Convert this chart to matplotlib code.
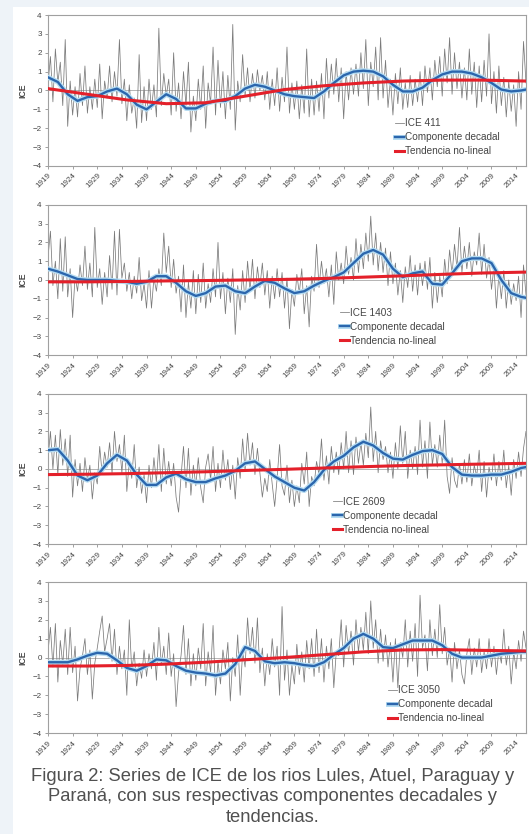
import numpy as np
import matplotlib
matplotlib.use("Agg")
import matplotlib.pyplot as plt
import matplotlib.patheffects as pe
from matplotlib.patches import Rectangle

plt.rcParams['font.family'] = ['Liberation Sans', 'DejaVu Sans']

# eje temporal: serie semestral 1919-2016, componente cada 2 años, tendencia cada 8
anio_ini = 1919
anio_fin = 2016
anios_ticks = list(range(1919, 2015, 5))
anios_decadal = list(range(1919, 2016, 2)) + [2016]
anios_tend = [1919, 1927, 1935, 1943, 1951, 1959, 1967, 1975, 1983, 1991, 1999, 2007, 2016]

etiquetas = ["ICE 411", "ICE 1403", "ICE 2609", "ICE 3050"]

# --- ICE 411 (Lules)
ice_411 = [
    0.3, 1.8, -0.6, 2.2, 0.4, 1.5, -0.8, 2.7, -1.9, 0.5,
    -1.3, 0.2, -1.4, 0.9, -0.8, 1.3, -1.2, 0.2, -1.0, 0.6,
    -0.9, 1.4, -1.5, 0.5, -0.4, 1.3, -0.6, 1.0, -0.3, 2.7,
    -0.7, 0.6, -1.6, 0.3, -1.2, -0.4, -2.0, 1.9, -1.7, 0.2,
    -1.6, 0.6, -1.0, 0.3, -1.4, 3.3, -0.8, 0.9, -0.3, 0.6,
    -1.3, 2.0, -1.1, 0.4, -1.5, 1.0, -0.8, 1.5, -2.2, -0.3,
    -1.6, 0.6, -1.0, 1.3, -2.0, 0.4, -0.7, 2.3, -1.3, 1.6,
    -0.9, 1.0, -1.5, 0.8, -1.0, 3.5, -2.1, 0.5, -0.6, 1.9,
    -0.3, 1.2, -0.6, 0.9, -0.4, 1.1, 0.0, 0.8, -0.5, 1.0,
    -1.0, 0.6, -0.8, 1.2, -1.1, 0.7, -0.6, 2.3, -1.2, 0.4,
    -1.0, 0.5, -1.5, 0.3, -1.2, 2.2, -1.4, 0.6, -1.3, 0.5,
    -1.1, 0.9, -1.5, 1.7, -0.4, 1.4, -0.2, 1.7, -0.6, 1.2,
    -1.5, 1.0, -0.5, 1.2, -0.2, 1.4, -0.3, 2.0, 0.1, 2.7,
    -0.8, 1.5, 0.2, 2.3, -0.5, 2.8, -0.4, 1.6, -0.9, 0.6,
    -1.3, 0.9, -0.7, 1.2, -1.0, 0.4, -0.9, 0.8, -0.8, 0.6,
    -0.6, 1.0, -0.8, 1.3, -0.1, 1.2, -0.5, 1.6, 0.2, 1.8,
    -0.3, 2.2, 0.4, 2.8, -0.2, 2.0, 0.1, 1.5, -0.4, 1.2,
    -0.5, 2.2, -0.2, 1.5, -0.9, 1.3, -0.6, 1.6, -0.3, 3.0,
    -0.7, 1.0, -1.2, 1.3, -0.8, 0.7, -1.4, 0.5, -1.1, 0.3,
    -1.9, 1.0, -1.0, 2.6, 0.4,
]
decadal_411 = [
    0.7, 0.45, -0.2, -0.55, -0.35, -0.3,
    -0.05, 0.1, -0.2, -0.75, -1.0,
    -0.6, -0.2, -0.45, -0.95, -0.95,
    -0.7, -0.55, -0.55, -0.3, 0.1,
    0.3, 0.2, 0.0, -0.2, -0.3,
    -0.35, -0.4, -0.05, 0.4, 0.8,
    1.0, 1.05, 1.0, 0.75, 0.3,
    -0.05, -0.05, 0.15, 0.55, 0.85,
    1.0, 1.0, 0.9, 0.7, 0.4,
    0.05, -0.05, 0.0, 0.05,
]
tend_411 = [0.1, -0.2, -0.5, -0.7, -0.65, -0.3, 0.05, 0.25, 0.4, 0.5, 0.55, 0.55, 0.5]

# --- ICE 1403 (Atuel)
ice_1403 = [
    1.2, 2.6, -0.3, 1.0, -1.0, 2.2, -0.6, 2.3, -0.9, 0.6,
    -2.0, 0.2, -0.6, 0.8, -0.3, 1.8, -0.5, 0.9, -0.9, 2.8,
    -0.4, 0.6, -1.3, 0.4, -0.9, 1.3, -0.5, 2.6, -0.8, 2.7,
    0.1, 0.9, -0.6, 0.4, -1.0, 0.2, -0.7, 1.2, -1.1, -0.2,
    -1.5, 0.5, -1.5, 0.1, -0.6, 0.6, -0.3, 2.5, 0.4, 1.8,
    -0.4, 1.1, -0.7, 0.2, -1.7, 0.8, -2.0, -0.1, -1.5, 0.5,
    -1.8, 0.3, -1.2, 0.9, -1.5, -0.2, -1.2, 0.6, -0.9, 2.0,
    -1.0, 0.4, -1.8, 0.1, -1.2, 0.6, -2.9, -0.3, -1.6, 0.5,
    -1.2, 1.0, -0.6, 1.1, -1.0, 0.7, -0.4, 0.9, -0.8, 0.5,
    -1.5, 0.2, -1.0, 0.6, -0.9, 0.4, -1.5, 0.1, -2.6, -0.5,
    -1.4, 0.3, -0.7, 0.6, -1.8, -0.3, -2.5, 0.2, -0.6, 1.9,
    -0.4, 1.0, -0.2, 0.6, -0.9, 0.8, -1.3, 1.5, 0.0, 0.9,
    -0.2, 1.8, 0.3, 1.2, 0.0, 2.2, 0.4, 1.9, 0.6, 2.5,
    1.0, 3.4, 0.8, 2.5, 0.5, 2.0, 0.4, 1.7, -0.3, 1.5,
    -0.2, 0.9, -0.8, 0.5, -1.2, 0.7, -0.4, 1.3, -0.6, 0.8,
    -0.8, 0.9, -0.3, 1.0, -0.5, 1.2, -1.5, 0.4, -1.2, 0.2,
    -0.9, 1.1, -0.2, 1.6, 0.3, 1.9, 0.6, 2.8, 0.4, 1.8,
    0.6, 2.0, 0.2, 1.5, 0.8, 2.5, 0.3, 1.9, 0.1, 1.2,
    -0.5, 0.7, -1.5, 0.3, -1.0, 0.5, -1.5, 0.0, -1.3, -0.2,
    -1.1, 0.2, -2.0, 0.8, -0.8,
]
decadal_1403 = [
    0.6, 0.45, 0.25, 0.05, 0.0, 0.0,
    0.0, -0.05, -0.1, -0.2, -0.1,
    0.2, 0.2, -0.15, -0.6, -0.85,
    -0.7, -0.35, -0.3, -0.6, -0.7,
    -0.35, -0.05, -0.15, -0.45, -0.7,
    -0.6, -0.3, -0.05, 0.15, 0.4,
    0.9, 1.4, 1.6, 1.35, 0.6,
    0.15, 0.35, 0.45, -0.2, -0.25,
    0.35, 1.0, 1.15, 1.15, 0.9,
    0.0, -0.7, -0.9, -0.95,
]
tend_1403 = [-0.1, -0.1, -0.08, -0.05, -0.03, 0.0, 0.03, 0.08, 0.15, 0.22, 0.3, 0.37, 0.42]

# --- ICE 2609 (Paraguay)
ice_2609 = [
    0.5, 2.0, 0.0, 1.8, -0.3, 2.1, 0.2, 1.6, -0.4, 1.8,
    -1.5, 0.5, -0.9, 0.3, -1.2, 0.6, -0.6, 0.2, -1.6, -0.2,
    -0.8, 1.2, -0.3, 0.9, 0.1, 1.4, -0.2, 2.0, 0.4, 1.3,
    -0.2, 1.8, -1.2, 0.4, -0.5, 1.3, -1.0, 0.1, -1.3, -0.3,
    -1.8, 0.2, -1.0, 0.6, -0.7, 1.3, -1.2, 1.1, -0.8, 0.4,
    -0.9, 0.3, -1.5, -2.3, -0.4, 1.2, -1.0, 1.1, -1.4, 0.2,
    -0.9, 0.6, -1.0, -1.8, 0.1, 0.8, -0.6, 1.2, -1.2, 0.3,
    -1.0, 1.0, -0.6, 0.5, -1.1, 0.2, -1.6, 0.6, -0.5, 1.6,
    -0.1, 1.9, 0.2, 1.4, -0.3, 1.1, -0.2, -1.5, -0.5, -1.2,
    0.5, -0.8, -2.0, -0.5, 1.3, -0.9, -1.4, 0.2, -1.8, -0.6,
    -2.0, -0.9, -1.8, 0.3, -0.8, 0.9, -2.0, -0.4, -0.9, 0.4,
    -0.3, 1.6, -0.6, 0.7, -0.8, 1.2, -0.2, 0.9, -0.3, 1.4,
    0.0, 2.0, -0.2, 1.5, -0.3, 1.7, 0.3, 1.4, 0.2, 1.9,
    0.6, 3.3, 0.4, 2.0, -0.2, 1.5, 0.5, 1.2, -0.2, 0.9,
    -0.5, 1.4, 0.0, 2.3, 0.3, 2.0, -0.5, 1.0, 0.0, 1.2,
    -0.3, 2.6, 0.1, 1.5, -0.5, 2.5, 0.2, 1.3, 0.1, 1.8,
    0.3, 2.6, -0.4, -1.3, 0.6, -0.6, -1.0, 0.3, -0.8, 0.5,
    -0.7, 0.8, -0.9, 0.2, -0.4, 1.0, -1.2, 0.4, -1.5, 0.1,
    -0.6, 0.8, -0.9, 0.4, -0.6, 1.0, -1.0, 0.2, -1.4, 0.5,
    -0.5, 0.9, -0.4, 1.1, 2.0,
]
decadal_2609 = [
    1.0, 1.05, 0.45, -0.35, -0.6, -0.35,
    0.3, 0.75, 0.45, -0.3, -0.85,
    -0.85, -0.45, -0.25, -0.55, -0.7,
    -0.7, -0.5, -0.35, -0.1, 0.3,
    0.4, 0.0, -0.4, -0.7, -1.0,
    -1.15, -0.7, -0.05, 0.4, 0.7,
    1.15, 1.45, 1.25, 0.85, 0.55,
    0.5, 0.75, 0.95, 1.0, 0.8,
    0.1, -0.3, -0.35, -0.35, -0.3,
    -0.3, -0.15, 0.05, 0.1,
]
tend_2609 = [-0.3, -0.28, -0.25, -0.2, -0.15, -0.08, -0.02, 0.05, 0.12, 0.18, 0.22, 0.26, 0.3]

# --- ICE 3050 (Paraná)
ice_3050 = [
    0.3, 1.6, -0.5, 1.8, -1.3, 0.9, -0.4, 1.5, -0.9, 1.6,
    -0.8, 0.6, -2.3, -0.6, 0.1, 1.0, -0.9, 0.4, -2.2, -0.3,
    0.5, 1.4, 2.2, 0.3, 1.0, 1.8, -0.2, 1.5, -0.9, 0.6,
    -0.6, 0.4, -2.0, 2.0, -0.7, 0.3, -1.5, -0.3, -1.1, 0.4,
    -1.0, 0.2, -0.6, 0.8, -1.2, 1.6, -0.4, 0.6, -0.9, 1.3,
    -1.0, 0.2, -2.6, -0.8, 0.1, 1.7, -0.9, 1.0, -1.5, 0.2,
    -1.2, 0.5, -0.6, 1.8, -1.5, 0.3, -0.8, 1.7, -2.0, -0.2,
    -1.4, 0.4, -0.6, 0.8, -2.3, 0.0, -1.0, 1.2, -2.0, 0.3,
    -0.5, 2.1, 0.2, 1.6, -0.3, 2.1, -0.8, 0.5, -1.5, 0.2,
    -0.9, 1.0, -0.5, 0.6, -2.0, 2.7, -1.2, 0.4, -2.0, -0.4,
    -1.4, 0.7, -0.9, 0.3, -1.3, 0.9, -0.6, 1.0, -1.0, 1.5,
    -0.8, 1.0, -1.3, 0.6, -0.6, 1.0, -1.6, 0.3, 0.1, 2.0,
    -0.5, 1.7, 0.2, 1.4, -0.4, 2.0, 0.3, 1.6, 0.4, 2.4,
    0.2, 3.0, 0.5, 2.0, -0.3, 1.5, -0.2, 1.2, -0.5, 0.8,
    -1.3, 1.0, -1.6, 0.8, 0.0, 2.0, -0.5, 1.4, -0.2, 1.8,
    -1.0, 3.3, 0.5, 1.2, -0.7, 2.0, 0.1, 1.5, 0.0, 2.8,
    0.2, 1.6, -0.4, 0.5, -1.3, 0.8, -0.6, 0.4, -0.9, -1.4,
    0.2, 1.0, -0.9, 0.5, -0.5, 1.0, -0.8, 0.3, -0.6, 1.0,
    -0.5, 0.6, -0.9, 0.4, -0.3, 1.5, -0.4, 0.6, -1.4, 0.3,
    -0.6, 0.9, -0.2, 1.4, 0.5,
]
decadal_3050 = [
    -0.25, -0.25, -0.25, -0.1, 0.1, 0.25,
    0.2, -0.15, -0.55, -0.7, -0.45,
    -0.1, -0.15, -0.45, -0.7, -0.8,
    -0.85, -0.95, -0.85, -0.35, 0.55,
    0.35, -0.2, -0.3, -0.25, -0.3,
    -0.4, -0.45, -0.25, 0.15, 0.5,
    1.0, 1.25, 1.0, 0.55, 0.5,
    0.7, 0.9, 0.9, 0.9, 0.65,
    0.2, 0.0, 0.0, 0.0, 0.1,
    0.2, 0.25, 0.3, 0.3,
]
tend_3050 = [-0.45, -0.45, -0.42, -0.35, -0.25, -0.12, 0.0, 0.15, 0.3, 0.4, 0.42, 0.38, 0.35]

series = [ice_411, ice_1403, ice_2609, ice_3050]
decadales = [decadal_411, decadal_1403, decadal_2609, decadal_3050]
tendencias = [tend_411, tend_1403, tend_2609, tend_3050]

# posiciones de los paneles en la figura (izq, abajo, ancho, alto)
pos_paneles = [
    (0.0907, 0.801, 0.9036, 0.181),
    (0.0907, 0.5743, 0.9036, 0.180),
    (0.0907, 0.3477, 0.9036, 0.180),
    (0.0907, 0.1211, 0.9036, 0.181),
]
pos_leyenda = [0.715, 0.60, 0.585, 0.70]

fig = plt.figure(figsize=(5.29, 8.34), dpi=100, facecolor='#eef3f8')
fig.patches.append(Rectangle((13 / 529, 0), 1, 1 - 7 / 834, transform=fig.transFigure,
                             facecolor='white', edgecolor='none', zorder=-5))

gris_txt = '#454545'
for i in range(4):
    ax = fig.add_axes(pos_paneles[i])
    t = anio_ini + 0.5 * np.arange(len(series[i]))
    ax.axhline(0, color='#a8a8a8', lw=0.6, zorder=1)
    ax.plot(t, series[i], color='#7a7a7a', lw=0.55, label=etiquetas[i], zorder=2)
    ax.plot(anios_decadal, decadales[i], color='#2b66ad', lw=1.7, label='Componente decadal', zorder=3,
            path_effects=[pe.Stroke(linewidth=3.6, foreground='#b5dcf2'), pe.Normal()])
    ax.plot(anios_tend, tendencias[i], color='#e4202a', lw=2.2, label='Tendencia no-lineal', zorder=4)

    ax.set_xlim(anio_ini, anio_fin)
    ax.set_ylim(-4, 4)
    ax.set_yticks(range(-4, 5))
    ax.set_xticks(anios_ticks)
    ax.set_xticklabels([str(a) for a in anios_ticks], rotation=45, ha='right',
                       rotation_mode='anchor', fontsize=5.8, color=gris_txt)
    ax.tick_params(axis='y', labelsize=5.8, labelcolor=gris_txt, length=2.5, width=0.6, color='#909090', pad=2)
    ax.tick_params(axis='x', length=2.5, width=0.6, color='#909090', pad=2)
    ax.set_ylabel('ICE', fontsize=6.2, fontweight='bold', color=gris_txt, labelpad=4)
    for s in ax.spines.values():
        s.set_color('#a0a0a0')
        s.set_linewidth(0.8)

    ax.legend(loc='lower left', bbox_to_anchor=(pos_leyenda[i], 0.03), frameon=False,
              fontsize=7.2, handlelength=0.9, handletextpad=0.15, labelspacing=0.4,
              borderpad=0, labelcolor=gris_txt)

caption = ("Figura 2: Series de ICE de los rios Lules, Atuel, Paraguay y\n"
           "Paraná, con sus respectivas componentes decadales y\n"
           "tendencias.")
fig.text(273 / 529, 1 - 768 / 834, caption, ha='center', va='top', fontsize=13.2,
         color='#505050', linespacing=1.25)

fig.savefig("out.png", dpi=100, facecolor=fig.get_facecolor())
